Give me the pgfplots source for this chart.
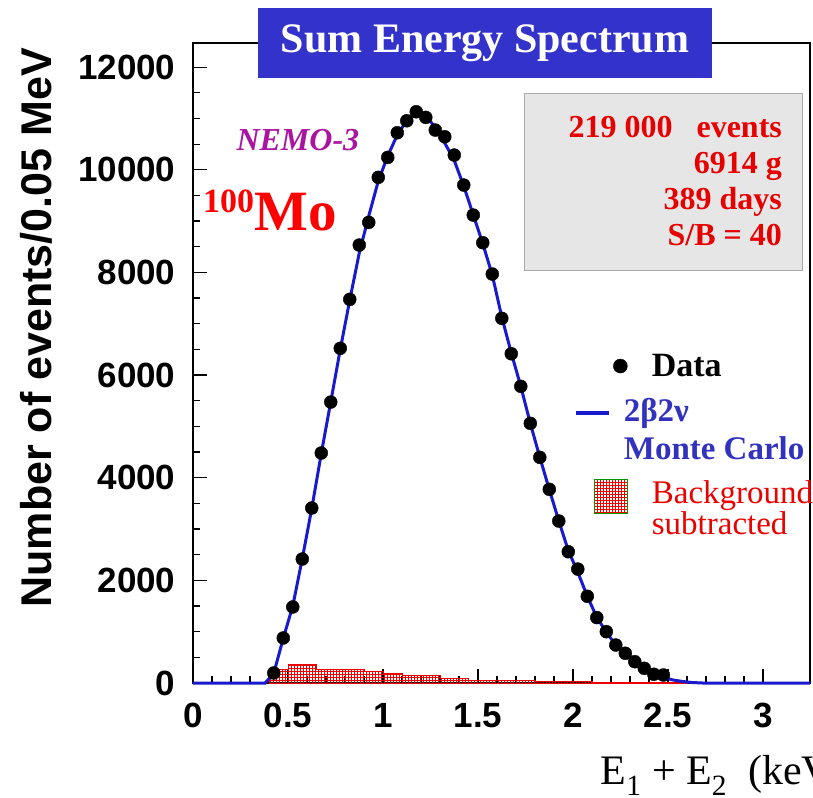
\documentclass[border=0pt]{standalone}
\usepackage{fontspec}
\setmainfont{Liberation Serif}
\newfontfamily\arial{Liberation Sans}
\usepackage{pgfplots}
\pgfplotsset{compat=1.18}
\usetikzlibrary{patterns}
\definecolor{mcblue}{RGB}{25,25,205}
\definecolor{titleblue}{RGB}{51,51,204}
\definecolor{boxgray}{RGB}{230,230,230}
\definecolor{boxedge}{RGB}{170,170,170}
\definecolor{nemo}{RGB}{170,20,160}
\definecolor{bgred}{RGB}{235,0,0}
\definecolor{bggreen}{RGB}{0,150,0}
\definecolor{txtblue}{RGB}{50,50,190}
\definecolor{statred}{RGB}{230,0,0}

\pgfplotstableread{
x y
0.425 195
0.475 877
0.525 1481
0.575 2416
0.625 3409
0.675 4481
0.725 5474
0.775 6521
0.825 7475
0.875 8533
0.925 8975
0.975 9852
1.025 10241
1.075 10721
1.125 10955
1.175 11130
1.225 11021
1.275 10773
1.325 10643
1.375 10286
1.425 9702
1.475 9117
1.525 8578
1.575 7968
1.625 7105
1.675 6415
1.725 5780
1.775 5059
1.825 4397
1.875 3774
1.925 3156
1.975 2558
2.025 2220
2.075 1690
2.125 1275
2.175 1000
2.225 740
2.275 579
2.325 415
2.375 286
2.425 170
2.475 156
}\datatab

\pgfplotstableread{
x y
0.00 0
0.38 0
0.425 190
0.475 870
0.525 1500
0.575 2420
0.625 3400
0.675 4470
0.725 5480
0.775 6500
0.825 7460
0.875 8380
0.925 9100
0.975 9780
1.025 10270
1.075 10680
1.125 10960
1.175 11080
1.225 11040
1.275 10830
1.325 10520
1.375 10180
1.425 9680
1.475 9120
1.525 8560
1.575 7950
1.625 7130
1.675 6430
1.725 5780
1.775 5060
1.825 4400
1.875 3770
1.925 3160
1.975 2580
2.025 2160
2.075 1690
2.125 1280
2.175 990
2.225 740
2.275 560
2.325 400
2.375 270
2.425 170
2.475 110
2.525 60
2.575 30
2.625 10
2.68 0
3.247 0
}\mctab

\pgfplotstableread{
x y
0.40 200
0.45 260
0.50 370
0.65 270
0.90 220
1.00 180
1.10 140
1.30 90
1.45 50
1.80 25
2.10 10
2.60 10
}\bgtab

\newcommand{\bbox}[4]{\pgfpathrectangle{\pgfpoint{#1}{#2}}{\pgfpoint{#3}{#4}}\pgfusepath{discard}}

\begin{document}
\begin{tikzpicture}
\begin{axis}[
  scale only axis, width=617pt, height=640pt,
  xmin=0, xmax=3.247, ymin=0, ymax=12470,
  clip=false,
  scaled y ticks=false, scaled x ticks=false,
  axis line style={line width=1.3pt},
  every tick/.style={black, line width=1.2pt},
  tick pos=left, tick align=inside,
  major tick length=14pt, minor tick length=7pt,
  xtick={0,0.5,1,1.5,2,2.5,3}, xticklabels={0,0.5,1,1.5,2,2.5,3},
  minor x tick num=4,
  ytick={0,2000,4000,6000,8000,10000,12000},
  yticklabels={0,2000,4000,6000,8000,10000,12000},
  minor y tick num=3,
  ticklabel style={font=\arial\bfseries\fontsize{35}{35}\selectfont},
  xticklabel style={yshift=-17pt},
  yticklabel style={xshift=-14pt},
  reverse legend,
  legend style={draw=none, fill=none, at={(axis cs:1.99,6489)}, anchor=north west,
    row sep=16pt, font=\fontsize{33}{28}\selectfont,
    nodes={align=left, inner sep=2pt}},
  legend cell align=left,
]
\coordinate (ll) at (rel axis cs:0,0);
\coordinate (ur) at (rel axis cs:1,1);

\addplot[const plot, draw=bgred, line width=1pt,
  pattern=grid, pattern color=bgred,
  legend image code/.code={\bbox{0pt}{-18pt}{50pt}{36pt}
    \draw[draw=bggreen, line width=1pt, pattern=grid, pattern color=bgred] (20pt,-5pt) rectangle (53pt,29pt);}]
  table[x=x,y=y] {\bgtab} \closedcycle;
\addlegendentry{\hspace*{22pt}\color{bgred}Background\\\hspace*{22pt}\color{bgred}subtracted}

\addplot[mcblue, line width=3pt,
  legend image code/.code={\bbox{0pt}{-20pt}{50pt}{40pt}
    \draw[mcblue, line width=4pt] (2pt,16pt) -- (35pt,16pt);}]
  table[x=x,y=y] {\mctab};
\addlegendentry{\hspace*{-6pt}\color{txtblue}\bfseries 2β2ν\\[7pt]\hspace*{-6pt}\color{txtblue}\bfseries Monte Carlo}

\addplot[only marks, mark=*, mark size=6.5pt, black,
  legend image code/.code={\bbox{0pt}{-12pt}{50pt}{24pt}
    \fill[black] (46pt,0pt) circle (7pt);}]
  table[x=x,y=y] {\datatab};
\addlegendentry{\hspace*{22pt}\bfseries\fontsize{34}{34}\selectfont Data}

% title
\node[fill=titleblue, text=white, minimum width=454pt, minimum height=70pt,
  font=\bfseries\fontsize{42}{42}\selectfont] at (axis cs:1.537,12468) {Sum Energy Spectrum};

% stats box
\draw[fill=boxgray, draw=boxedge, line width=1pt] (axis cs:1.747,11494) rectangle (axis cs:3.205,8046);
\node[anchor=north east, align=right, text=statred, inner sep=0pt,
  font=\bfseries\fontsize{32}{36}\selectfont] at (axis cs:3.1,11040)
  {219 000\hspace{0.5em} events\\6914 g\\389 days\\S/B = 40};

% labels
\node[anchor=base west, text=nemo, font=\bfseries\itshape\fontsize{32}{32}\selectfont]
  at (axis cs:0.2105,10384) {NEMO-3};
\node[anchor=base west, text=red, inner sep=0pt]
  at (axis cs:0.0526,8825) {\raisebox{18pt}{\bfseries\fontsize{34}{34}\selectfont 100}\bfseries\fontsize{57}{57}\selectfont Mo};

\node[rotate=90, font=\arial\bfseries\fontsize{43}{43}\selectfont]
  at (axis description cs:-0.2545,0.555) {Number of events/0.05 MeV};
\node[anchor=base west, font=\fontsize{42}{42}\selectfont]
  at (axis description cs:0.655,-0.159) {E\textsubscript{1} + E\textsubscript{2}\hspace{0.5em}(keV)};
\end{axis}
\pgfresetboundingbox
\path[use as bounding box] ([xshift=-193pt,yshift=-114pt]ll) rectangle ([xshift=3pt,yshift=43pt]ur);
\end{tikzpicture}
\end{document}
